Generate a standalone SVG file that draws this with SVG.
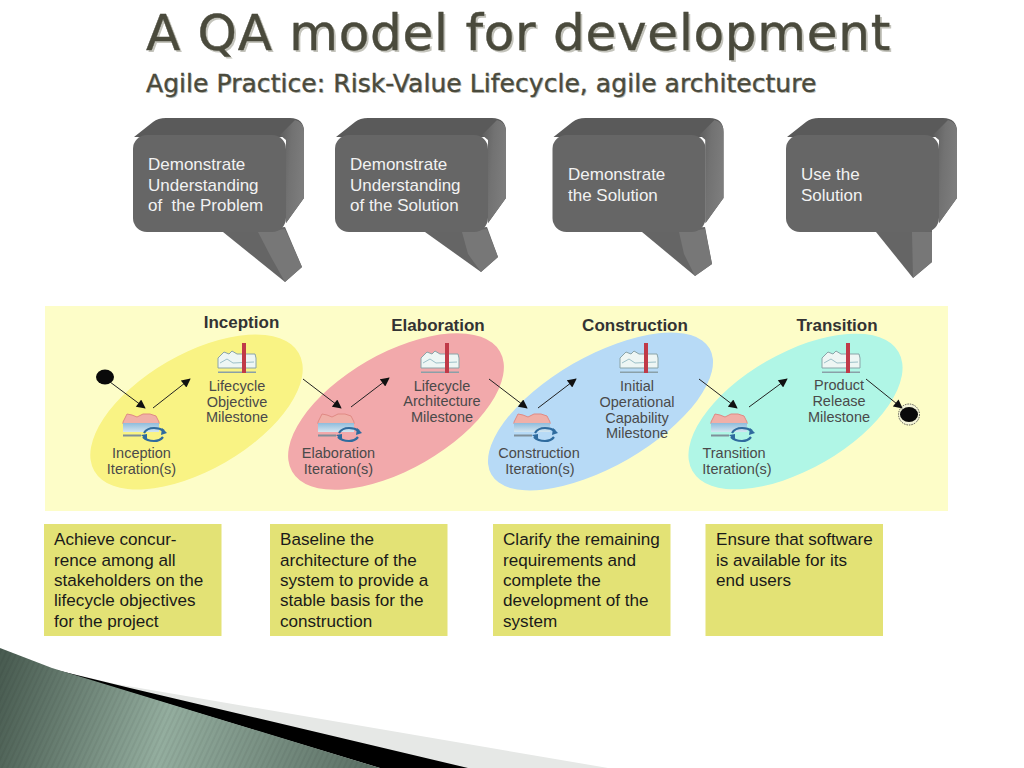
<svg xmlns="http://www.w3.org/2000/svg" xmlns:xlink="http://www.w3.org/1999/xlink" width="1024" height="768" viewBox="0 0 1024 768">
<style>
.t1{font:50px "DejaVu Sans",sans-serif;fill:#4a4a3c;letter-spacing:.75px;stroke:#4a4a3c;stroke-width:.4px}
.t2{font:25px "DejaVu Sans",sans-serif;fill:#4a4a3c;letter-spacing:.05px;stroke:#4a4a3c;stroke-width:.35px}
.shadow{fill:#c4c4bc;stroke:none}
.bt{font:17px "Liberation Sans",Arial,sans-serif;fill:#f2f2f2;white-space:pre}
.nt{font:17.100px "Liberation Sans",Arial,sans-serif;fill:#1a1a1a}
.lb{font:14.500px "Liberation Sans",Arial,sans-serif;fill:#4a4a4a;text-anchor:middle}
.ph{font:bold 17px "Liberation Sans",Arial,sans-serif;fill:#333;text-anchor:middle}
.note{fill:#e3e275}
.front{fill:#666}
.tail{fill:#656565}
.tailside{fill:#777}
.conn line{stroke:#222;stroke-width:1;marker-end:url(#ah)}
</style>
<defs>
<marker id="ah" viewBox="0 0 10 10" refX="9" refY="5" markerWidth="10" markerHeight="9" markerUnits="userSpaceOnUse" orient="auto"><path d="M0 0L10 5L0 10Z" fill="#111"/></marker>
<linearGradient id="side" x1="0" y1="0" x2="1" y2="0.300"><stop offset="0" stop-color="#5c5c5c"/><stop offset=".5" stop-color="#727272"/><stop offset="1" stop-color="#7c7c7c"/></linearGradient>
<linearGradient id="foot" gradientUnits="userSpaceOnUse" x1="0" y1="680" x2="370" y2="768"><stop offset="0" stop-color="#4a5d52"/><stop offset=".45" stop-color="#94ae9f"/><stop offset="1" stop-color="#5c7065"/></linearGradient>
<linearGradient id="water" x1="0" y1="0" x2="0" y2="1"><stop offset="0" stop-color="#8fbcdc"/><stop offset="1" stop-color="#d4e6f0"/></linearGradient>
<pattern id="stripe" width="5" height="5" patternUnits="userSpaceOnUse" patternTransform="rotate(25)"><rect width="2" height="5" fill="#000" opacity=".05"/></pattern>
<filter id="soft" x="-10%" y="-10%" width="120%" height="120%"><feGaussianBlur stdDeviation=".5"/></filter>
<g id="ms">
<path d="M-19 -9L-13 -15L-8 -13L-5 -16L0 -13L18 -13L19 -9V1H-19Z" fill="#eef6f4" stroke="#8aa4a8" stroke-width="1"/>
<path d="M-17 -4L-10 -8L-4 -4L17 -5" fill="none" stroke="#9cc0c8" stroke-width="1"/>
<rect x="-19" y="4.500" width="38" height="1.500" fill="#8aa0a8"/>
<rect x="5" y="-24" width="4" height="30" fill="#c03a48"/>
</g>
<g id="it">
<path d="M-18 -2L-14 -10L-9 -9L-4 -7L2 -10L9 -10L15 -8L18 -2V0H-18Z" fill="#f0b0a8" stroke="#e08a84" stroke-width="1"/>
<rect x="-18" y="-1" width="36" height="9" fill="url(#water)"/>
<rect x="-18" y="10.500" width="18" height="2" fill="#7f8f9a"/>
<path d="M3 9Q6 4 13 4Q19 4 23 7" fill="none" stroke="#2f6b9e" stroke-width="2.200"/>
<path d="M22 13Q19 17 13 17Q6 17 2 13" fill="none" stroke="#2f6b9e" stroke-width="2.200"/>
<path d="M21 4L26 9L20 11Z" fill="#2f6b9e"/>
<path d="M6 16L0 11L6 10Z" fill="#2f6b9e"/>
</g>
<g id="back">
<path d="M134 137L153 122Q158 118 166 118H290Q304 118 304 132V198L286 223V137Z" fill="#5a5a5a"/>
<path d="M280 135L295 120Q304 122 304 132V198L286 223V140Z" fill="url(#side)"/>
</g>
</defs>
<rect width="1024" height="768" fill="#fff"/>
<g id="footer">
<path d="M0 650L52 669L116 684L608 768H380H0Z" fill="#e6e8e6"/>
<path d="M52 669L130 688L468 768H380Z" fill="#000"/>
<path d="M0 648L52 668L380 768H0Z" fill="url(#foot)"/>
<path d="M0 648L52 668L380 768H0Z" fill="url(#stripe)"/>
</g>
<g id="title">
<text class="t1 shadow" x="148" y="52">A QA model for development</text>
<text class="t1" x="146" y="50">A QA model for development</text>
<text class="t2 shadow" x="147" y="93">Agile Practice: Risk-Value Lifecycle, agile architecture</text>
<text class="t2" x="146" y="92">Agile Practice: Risk-Value Lifecycle, agile architecture</text>
</g>
<g id="bubble1">
<use xlink:href="#back" href="#back"/>
<path class="tail" d="M223 232L285 282L302 267L285 227Z"/>
<path class="tailside" d="M258 232L285 229L302 267L285 282L271 257Z"/>
<rect class="front" x="133" y="135" width="153" height="97" rx="14"/>
<text class="bt"><tspan x="148" y="170">Demonstrate</tspan><tspan x="148" y="190.500">Understanding</tspan><tspan x="148" y="211">of  the Problem</tspan></text>
</g>
<g id="bubble2">
<use xlink:href="#back" href="#back" x="202"/>
<path class="tail" d="M425 232L481 272L498 257L487 227Z"/>
<path class="tailside" d="M462 232L487 229L498 257L481 272L468 254Z"/>
<rect class="front" x="335" y="135" width="153" height="97" rx="14"/>
<text class="bt"><tspan x="350" y="170">Demonstrate</tspan><tspan x="350" y="190.500">Understanding</tspan><tspan x="350" y="211">of the Solution</tspan></text>
</g>
<g id="bubble3">
<use xlink:href="#back" href="#back" x="419.500"/>
<path class="tail" d="M642 232L695 276L712 264L705 227Z"/>
<path class="tailside" d="M679 232L705 229L712 264L695 276L684 254Z"/>
<rect class="front" x="552.500" y="135" width="153" height="97" rx="14"/>
<text class="bt"><tspan x="568" y="180">Demonstrate</tspan><tspan x="568" y="201">the Solution</tspan></text>
</g>
<g id="bubble4">
<use xlink:href="#back" href="#back" x="653"/>
<path class="tail" d="M876 232L913 278L932 262V230Z"/>
<path class="tailside" d="M912 232H932V262L913 278Z"/>
<rect class="front" x="786" y="135" width="153" height="97" rx="14"/>
<text class="bt"><tspan x="801" y="180">Use the</tspan><tspan x="801" y="201">Solution</tspan></text>
</g>
<g id="lifecycle">
<rect x="45" y="306" width="903" height="205" fill="#fdfdc8"/>
<g filter="url(#soft)">
<ellipse cx="196.500" cy="412" rx="118" ry="58" transform="rotate(-30 196.500 412)" fill="#f9f384"/>
<ellipse cx="396" cy="411.500" rx="120" ry="58" transform="rotate(-30 396 411.500)" fill="#f2a9ab"/>
<ellipse cx="600.500" cy="411.500" rx="126" ry="55" transform="rotate(-30 600.500 411.500)" fill="#b7daf6"/>
<ellipse cx="795.500" cy="411.500" rx="119" ry="58" transform="rotate(-30 795.500 411.500)" fill="#b0f6e6"/>
</g>
<g id="inception">
<text class="ph" x="241.500" y="328">Inception</text>
<use xlink:href="#ms" href="#ms" x="237" y="367"/>
<use xlink:href="#it" href="#it" x="141" y="424"/>
<text class="lb"><tspan x="237" y="391">Lifecycle</tspan><tspan x="237" y="407">Objective</tspan><tspan x="237" y="422">Milestone</tspan></text>
<text class="lb"><tspan x="141.500" y="458">Inception</tspan><tspan x="141.500" y="473.500">Iteration(s)</tspan></text>
</g>
<g id="elaboration">
<text class="ph" x="438" y="331">Elaboration</text>
<use xlink:href="#ms" href="#ms" x="440" y="367"/>
<use xlink:href="#it" href="#it" x="336" y="424"/>
<text class="lb"><tspan x="442" y="391">Lifecycle</tspan><tspan x="442" y="406">Architecture</tspan><tspan x="442" y="422">Milestone</tspan></text>
<text class="lb"><tspan x="338.500" y="458">Elaboration</tspan><tspan x="338.500" y="473.500">Iteration(s)</tspan></text>
</g>
<g id="construction">
<text class="ph" x="635" y="331">Construction</text>
<use xlink:href="#ms" href="#ms" x="639" y="367"/>
<use xlink:href="#it" href="#it" x="532" y="424"/>
<text class="lb"><tspan x="637" y="391">Initial</tspan><tspan x="637" y="407">Operational</tspan><tspan x="637" y="423">Capability</tspan><tspan x="637" y="438">Milestone</tspan></text>
<text class="lb"><tspan x="539" y="458">Construction</tspan><tspan x="540" y="473.500">Iteration(s)</tspan></text>
</g>
<g id="transition">
<text class="ph" x="837" y="331">Transition</text>
<use xlink:href="#ms" href="#ms" x="841" y="367"/>
<use xlink:href="#it" href="#it" x="729" y="424"/>
<text class="lb"><tspan x="839" y="390">Product</tspan><tspan x="839" y="406">Release</tspan><tspan x="839" y="422">Milestone</tspan></text>
<text class="lb"><tspan x="734" y="458">Transition</tspan><tspan x="737" y="473.500">Iteration(s)</tspan></text>
</g>
<g id="start"><ellipse cx="105" cy="377" rx="9" ry="7.500" fill="#0a0a0a"/></g>
<g id="end"><circle cx="909" cy="414.500" r="10.500" fill="#f4f4d8" stroke="#333" stroke-width=".8" stroke-dasharray="1.500 1"/><ellipse cx="909" cy="414.500" rx="9" ry="7.500" fill="#0a0a0a"/></g>
</g>
<g id="connectors" class="conn">
<line x1="110" y1="382" x2="145" y2="408"/>
<line x1="153" y1="408" x2="190" y2="379"/>
<line x1="303" y1="379" x2="341" y2="408"/>
<line x1="351" y1="407" x2="389" y2="378"/>
<line x1="489" y1="379" x2="527" y2="408"/>
<line x1="538" y1="408" x2="576" y2="379"/>
<line x1="699" y1="379" x2="737" y2="408"/>
<line x1="749" y1="407" x2="787" y2="379"/>
<line x1="866" y1="379" x2="902" y2="408"/>
</g>
<g id="note1"><rect class="note" x="44" y="524" width="177.500" height="112"/><text class="nt"><tspan x="54" y="545">Achieve concur-</tspan><tspan x="54" y="566">rence among all</tspan><tspan x="54" y="586">stakeholders on the</tspan><tspan x="54" y="606">lifecycle objectives</tspan><tspan x="54" y="627">for the project</tspan></text></g>
<g id="note2"><rect class="note" x="270" y="524" width="177.500" height="112"/><text class="nt"><tspan x="280" y="545">Baseline the</tspan><tspan x="280" y="566">architecture of the</tspan><tspan x="280" y="586">system to provide a</tspan><tspan x="280" y="606">stable basis for the</tspan><tspan x="280" y="627">construction</tspan></text></g>
<g id="note3"><rect class="note" x="493" y="524" width="177.500" height="112"/><text class="nt"><tspan x="503" y="545">Clarify the remaining</tspan><tspan x="503" y="566">requirements and</tspan><tspan x="503" y="586">complete the</tspan><tspan x="503" y="606">development of the</tspan><tspan x="503" y="627">system</tspan></text></g>
<g id="note4"><rect class="note" x="705.500" y="524" width="177.500" height="112"/><text class="nt"><tspan x="716" y="545">Ensure that software</tspan><tspan x="716" y="566">is available for its</tspan><tspan x="716" y="586">end users</tspan></text></g>
</svg>
